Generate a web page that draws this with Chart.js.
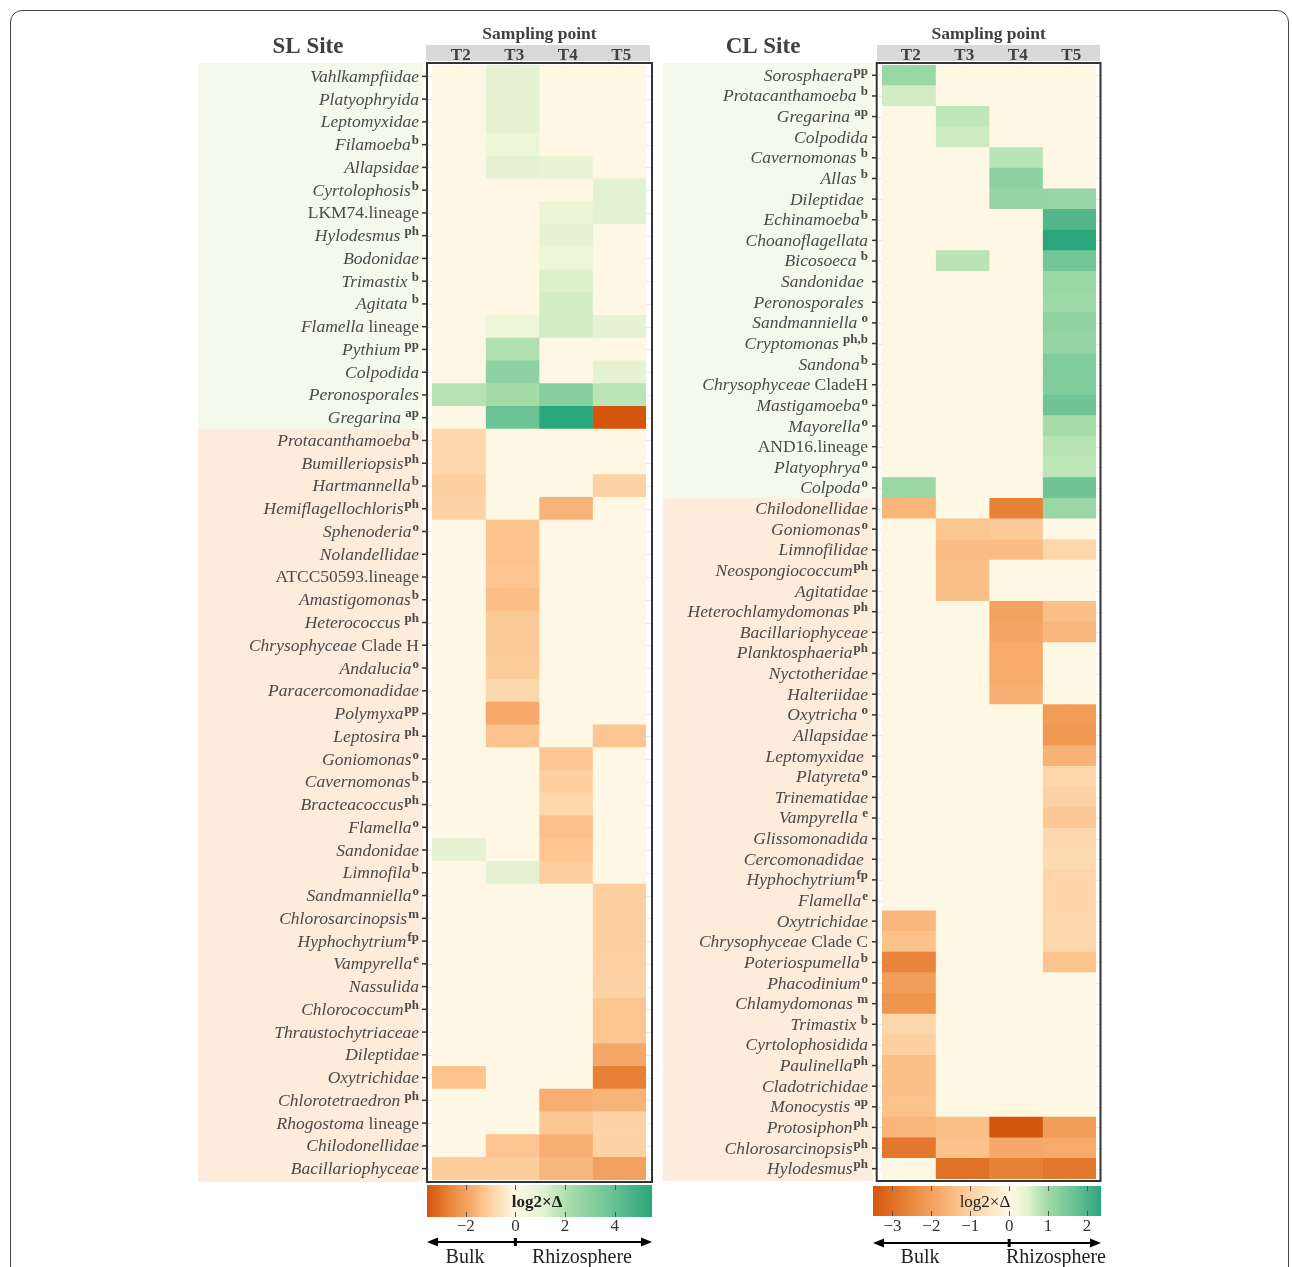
<!DOCTYPE html>
<html>
<head>
<meta charset="utf-8">
<script src="https://cdn.jsdelivr.net/npm/chart.js@4.4.1/dist/chart.umd.min.js"></script>
<style>
  html, body { margin: 0; padding: 0; background: #fff; }
  #page { position: relative; width: 1292px; height: 1267px; overflow: hidden; }
  #frame { position: absolute; left: 10px; top: 10px; width: 1279px; height: 1300px;
           border: 1px solid #444; border-radius: 12px; box-sizing: border-box; }
  canvas { position: absolute; top: 0; }
  #sl { left: 0; }
  #cl { left: 660px; }
</style>
</head>
<body>
<div id="page">
  <div id="frame"></div>
  <canvas id="sl" width="660" height="1267"></canvas>
  <canvas id="cl" width="632" height="1267"></canvas>
</div>
<script>
// Sampling points (columns of both heatmaps)
const samplingPoints = ['T2', 'T3', 'T4', 'T5'];

// ---- SL site ----  (_text_ = italic part of the label)
const slTaxa = [
  '_Vahlkampfiidae_', '_Platyophryida_', '_Leptomyxidae_', '_Filamoeba_', '_Allapsidae_',
  '_Cyrtolophosis_', 'LKM74.lineage', '_Hylodesmus_', '_Bodonidae_', '_Trimastix_',
  '_Agitata_', '_Flamella_ lineage', '_Pythium_', '_Colpodida_', '_Peronosporales_', '_Gregarina_',
  '_Protacanthamoeba_', '_Bumilleriopsis_', '_Hartmannella_', '_Hemiflagellochloris_', '_Sphenoderia_',
  '_Nolandellidae_', 'ATCC50593.lineage', '_Amastigomonas_', '_Heterococcus_', '_Chrysophyceae_ Clade H',
  '_Andalucia_', '_Paracercomonadidae_', '_Polymyxa_', '_Leptosira_', '_Goniomonas_',
  '_Cavernomonas_', '_Bracteacoccus_', '_Flamella_', '_Sandonidae_', '_Limnofila_',
  '_Sandmanniella_', '_Chlorosarcinopsis_', '_Hyphochytrium_', '_Vampyrella_', '_Nassulida_',
  '_Chlorococcum_', '_Thraustochytriaceae_', '_Dileptidae_', '_Oxytrichidae_', '_Chlorotetraedron_',
  '_Rhogostoma_ lineage', '_Chilodonellidae_', '_Bacillariophyceae_'
];
const slSup = [
  '', '', '', 'b', '', 'b', '', ' ph', '', ' b', ' b', '', ' pp', '', '', ' ap',
  'b', 'ph', 'b', 'ph', 'o', '', '', 'b', ' ph', '', 'o', '', 'pp', ' ph', 'o', 'b', 'ph',
  'o', '', 'b', 'o', 'm', 'fp', 'e', '', 'ph', '', '', '', ' ph', '', '', ''
];
const slRhizoCount = 16;   // first rows are rhizosphere-enriched
const slT2 = [0, 0, 0, 0, 0, 0, 0, 0, 0, 0, 0, 0, 0, 0, 1.9, 0,
  -0.85, -0.85, -1.05, -0.95, 0, 0, 0, 0, 0, 0, 0, 0, 0, 0, 0, 0, 0, 0, 1.0, 0,
  0, 0, 0, 0, 0, 0, 0, 0, -1.3, 0, 0, 0, -1.1];
const slT3 = [1.0, 1.0, 1.05, 0.66, 1.0, 0, 0, 0, 0, 0, 0, 0.66, 2.0, 2.9, 2.25, 3.85,
  0, 0, 0, 0, -1.3, -1.3, -1.25, -1.4, -1.15, -1.15, -1.1, -0.85, -1.8, -1.3, 0, 0, 0, 0, 0, 1.05,
  0, 0, 0, 0, 0, 0, 0, 0, 0, 0, 0, -1.25, -1.1];
const slT4 = [0, 0, 0, 0, 0.9, 0, 0.8, 1.0, 0.7, 1.2, 1.4, 1.4, 0, 0, 3.1, 5.5,
  0, 0, 0, -1.6, 0, 0, 0, 0, 0, 0, 0, 0, 0, 0, -1.2, -1.05, -0.9, -1.35, -1.25, -1.05,
  0, 0, 0, 0, 0, 0, 0, 0, 0, -1.7, -1.2, -1.7, -1.55];
const slT5 = [0, 0, 0, 0, 0, 1.1, 1.1, 0, 0, 0, 0, 1.0, 0, 1.0, 1.8, -3.56,
  0, 0, -0.95, 0, 0, 0, 0, 0, 0, 0, 0, 0, 0, -1.25, 0, 0, 0, 0, 0, 0,
  -1.05, -1.05, -1.05, -1.0, -0.95, -1.25, -1.25, -1.85, -2.7, -1.6, -0.95, -0.95, -2.0];
const slTicks = [-2, 0, 2, 4];

// ---- CL site ----
const clTaxa = [
  '_Sorosphaera_', '_Protacanthamoeba_', '_Gregarina_', '_Colpodida_', '_Cavernomonas_',
  '_Allas_', '_Dileptidae_', '_Echinamoeba_', '_Choanoflagellata_', '_Bicosoeca_',
  '_Sandonidae_', '_Peronosporales_', '_Sandmanniella_', '_Cryptomonas_', '_Sandona_',
  '_Chrysophyceae_ CladeH', '_Mastigamoeba_', '_Mayorella_', 'AND16.lineage', '_Platyophrya_', '_Colpoda_',
  '_Chilodonellidae_', '_Goniomonas_', '_Limnofilidae_', '_Neospongiococcum_', '_Agitatidae_',
  '_Heterochlamydomonas_', '_Bacillariophyceae_', '_Planktosphaeria_', '_Nyctotheridae_', '_Halteriidae_',
  '_Oxytricha_', '_Allapsidae_', '_Leptomyxidae_', '_Platyreta_', '_Trinematidae_',
  '_Vampyrella_', '_Glissomonadida_', '_Cercomonadidae_', '_Hyphochytrium_', '_Flamella_',
  '_Oxytrichidae_', '_Chrysophyceae_ Clade C', '_Poteriospumella_', '_Phacodinium_', '_Chlamydomonas_',
  '_Trimastix_', '_Cyrtolophosidida_', '_Paulinella_', '_Cladotrichidae_', '_Monocystis_',
  '_Protosiphon_', '_Chlorosarcinopsis_', '_Hylodesmus_'
];
const clSup = [
  'pp', ' b', ' ap', '', ' b', ' b', ' ', 'b', '', ' b', ' ', ' ', ' o', ' ph,b', 'b', '', 'o', 'o', '', 'o', 'o',
  '', 'o', '', 'ph', '', ' ph', '', 'ph', '', '', ' o', '', ' ', 'o', '', ' e', '', ' ', 'fp', 'e',
  '', '', 'b', 'o', ' m', ' b', '', 'ph', '', ' ap', 'ph', 'ph', 'ph'
];
const clRhizoCount = 21;
const clT2 = [1.1, 0.6, 0, 0, 0, 0, 0, 0, 0, 0, 0, 0, 0, 0, 0, 0, 0, 0, 0, 0, 1.08,
  -1.55, 0, 0, 0, 0, 0, 0, 0, 0, 0, 0, 0, 0, 0, 0, 0, 0, 0, 0, 0,
  -1.5, -1.3, -2.6, -2.05, -2.25, -0.85, -1.0, -1.35, -1.35, -1.3, -1.55, -2.85, 0];
const clT3 = [0, 0, 0.73, 0.65, 0, 0, 0, 0, 0, 0.78, 0, 0, 0, 0, 0, 0, 0, 0, 0, 0, 0,
  0, -1.22, -1.4, -1.35, -1.35, 0, 0, 0, 0, 0, 0, 0, 0, 0, 0, 0, 0, 0, 0, 0,
  0, 0, 0, 0, 0, 0, 0, 0, 0, 0, -1.35, -1.3, -3.0];
const clT4 = [0, 0, 0, 0, 0.78, 1.25, 1.15, 0, 0, 0, 0, 0, 0, 0, 0, 0, 0, 0, 0, 0, 0,
  -2.65, -1.12, -1.4, 0, 0, -1.95, -1.85, -1.75, -1.75, -1.65, 0, 0, 0, 0, 0, 0, 0, 0, 0, 0,
  0, 0, 0, 0, 0, 0, 0, 0, 0, 0, -3.5, -1.8, -2.65];
const clT5 = [0, 0, 0, 0, 0, 0, 1.12, 1.95, 2.36, 1.58, 1.1, 1.05, 1.2, 1.15, 1.4, 1.4, 1.6, 0.95, 0.8, 0.75, 1.6,
  1.1, 0, -0.88, 0, 0, -1.35, -1.5, 0, 0, 0, -2.1, -2.2, -1.6, -0.88, -0.98, -1.15, -0.82, -0.78, -0.9, -0.9,
  -0.85, -0.85, -1.28, 0, 0, 0, 0, 0, 0, 0, -2.1, -1.75, -2.85];
const clTicks = [-3, -2, -1, 0, 1, 2];

// ---- diverging colour scale (bulk = orange, rhizosphere = green) ----
const NEG_STOPS = [[0, '#fef7e3'], [0.12, '#fde8c8'], [0.25, '#fdd6aa'], [0.37, '#fcc28c'],
  [0.5, '#f6aa6c'], [0.65, '#ef954d'], [0.8, '#e47a30'], [1, '#d4560c']];
const POS_STOPS = [[0, '#fef7e3'], [0.12, '#eef6d8'], [0.2, '#e3f2d0'], [0.3, '#c3e8bb'],
  [0.4, '#a6dcaa'], [0.55, '#88d09e'], [0.7, '#6cc395'], [0.85, '#4db488'], [1, '#2aa77a']];

function hexRgb(h) { return [1, 3, 5].map(i => parseInt(h.substr(i, 2), 16)); }
function ramp(stops, t) {
  t = Math.max(0, Math.min(1, t));
  for (let i = 1; i < stops.length; i++) {
    if (t <= stops[i][0]) {
      const [t0, c0] = stops[i - 1], [t1, c1] = stops[i];
      const f = (t - t0) / (t1 - t0);
      const a = hexRgb(c0), b = hexRgb(c1);
      return 'rgb(' + a.map((v, k) => Math.round(v + (b[k] - v) * f)).join(',') + ')';
    }
  }
  return stops[stops.length - 1][1];
}
function colorFor(v, lo, hi) {
  return v < 0 ? ramp(NEG_STOPS, v / lo) : ramp(POS_STOPS, v / hi);
}

const SERIF = '"Liberation Serif", "Times New Roman", serif';
const TEXT = '#4a4a4a';

function drawLabel(ctx, markup, sup, xRight, y) {
  const segs = markup.split('_').map((t, i) => ({ t, font: (i % 2 ? 'italic ' : '') + '17.5px ' + SERIF }))
    .filter(s => s.t.length);
  let w = 0;
  segs.forEach(s => { ctx.font = s.font; s.w = ctx.measureText(s.t).width; w += s.w; });
  const supFont = 'bold 13px ' + SERIF;
  ctx.font = supFont;
  const sw = sup ? ctx.measureText(sup).width + 1 : 0;
  let x = xRight - w - sw;
  ctx.textAlign = 'left';
  ctx.textBaseline = 'alphabetic';
  segs.forEach(s => { ctx.font = s.font; ctx.fillText(s.t, x, y); x += s.w; });
  if (sup) { ctx.font = supFont; ctx.fillText(sup, x + 1, y - 6); }
}

function arrowHead(ctx, x, y, dir) {
  ctx.beginPath();
  ctx.moveTo(x, y);
  ctx.lineTo(x - dir * 11, y - 4.5);
  ctx.lineTo(x - dir * 11, y + 4.5);
  ctx.closePath();
  ctx.fill();
}

function makePanel(id, title, taxa, sup, cols, rhizoCount, ticks, g) {
  const all = cols.flat();
  const lo = Math.min(...all), hi = Math.max(...all);

  const decor = {
    id: 'decor-' + id,
    beforeDatasetsDraw(chart) {
      const { ctx, scales: { x, y } } = chart;
      const n = taxa.length;
      const split = (y.getPixelForValue(rhizoCount - 1) + y.getPixelForValue(rhizoCount)) / 2;
      ctx.save();
      // row group bands behind labels
      ctx.fillStyle = '#f4f9ec';
      ctx.fillRect(g.band[0], g.box[2], g.band[1] - g.band[0], split - g.box[2]);
      ctx.fillStyle = '#fdebdc';
      ctx.fillRect(g.band[0], split, g.band[1] - g.band[0], g.box[3] - split);
      // panel grid
      ctx.strokeStyle = '#ebebeb';
      ctx.lineWidth = 1;
      for (let i = 0; i < n; i++) {
        const py = Math.round(y.getPixelForValue(i)) + 0.5;
        ctx.beginPath(); ctx.moveTo(g.box[0], py); ctx.lineTo(g.box[1], py); ctx.stroke();
      }
      for (let c = 0; c < 4; c++) {
        const px = Math.round(x.getPixelForValue(c + 0.5)) + 0.5;
        ctx.beginPath(); ctx.moveTo(px, g.box[2]); ctx.lineTo(px, g.box[3]); ctx.stroke();
      }
      // header strip
      ctx.fillStyle = '#d9d9d9';
      ctx.fillRect(g.strip[0], 45, g.strip[1] - g.strip[0], 16);
      ctx.fillStyle = '#404040';
      ctx.textAlign = 'center';
      ctx.textBaseline = 'alphabetic';
      ctx.font = 'bold 17px ' + SERIF;
      samplingPoints.forEach((s, c) => ctx.fillText(s, x.getPixelForValue(c + 0.5) + 2, 60));
      ctx.font = 'bold 17.5px ' + SERIF;
      ctx.fillText('Sampling point', (g.box[0] + g.box[1]) / 2, 39);
      ctx.font = 'bold 23px ' + SERIF;
      ctx.fillText(title, g.titleX, 53);
      ctx.restore();
    },
    afterDatasetsDraw(chart) {
      const { ctx, scales: { y } } = chart;
      ctx.save();
      // panel border
      ctx.strokeStyle = '#333';
      ctx.lineWidth = 2;
      ctx.strokeRect(g.box[0], g.box[2], g.box[1] - g.box[0], g.box[3] - g.box[2]);
      // row ticks and labels
      ctx.lineWidth = 1.5;
      ctx.fillStyle = TEXT;
      taxa.forEach((t, i) => {
        const py = y.getPixelForValue(i);
        ctx.beginPath(); ctx.moveTo(g.tick[0], py); ctx.lineTo(g.tick[1], py); ctx.stroke();
        drawLabel(ctx, t, sup[i], g.labelRight, py + 5.5);
      });
      // colour bar
      const [cx0, cx1, cy0, cy1] = g.cbar;
      const vx = v => cx0 + (v - lo) / (hi - lo) * (cx1 - cx0);
      for (let px = cx0; px < cx1; px++) {
        const v = lo + (px + 0.5 - cx0) / (cx1 - cx0) * (hi - lo);
        ctx.fillStyle = colorFor(v, lo, hi);
        ctx.fillRect(px, cy0, 1, cy1 - cy0);
      }
      ctx.strokeStyle = '#555';
      ctx.lineWidth = 1;
      ctx.fillStyle = '#333';
      ctx.textAlign = 'center';
      ctx.font = '17px ' + SERIF;
      ticks.forEach(tv => {
        const px = Math.round(vx(tv)) + 0.5;
        ctx.beginPath(); ctx.moveTo(px, cy0); ctx.lineTo(px, cy0 + 5); ctx.stroke();
        ctx.beginPath(); ctx.moveTo(px, cy1 - 5); ctx.lineTo(px, cy1); ctx.stroke();
        ctx.fillText(tv < 0 ? '\u2212' + Math.abs(tv) : String(tv), vx(tv), 1231);
      });
      ctx.fillStyle = '#222';
      ctx.font = (g.cbBold ? 'bold ' : '') + '17px ' + SERIF;
      ctx.fillText('log2\u00d7\u0394', g.cbTitleX, 1207);
      // bulk / rhizosphere arrow
      ctx.strokeStyle = '#000';
      ctx.fillStyle = '#000';
      ctx.lineWidth = 2;
      ctx.beginPath(); ctx.moveTo(cx0 + 4, g.arrowY); ctx.lineTo(cx1 - 4, g.arrowY); ctx.stroke();
      arrowHead(ctx, cx0, g.arrowY, -1);
      arrowHead(ctx, cx1, g.arrowY, 1);
      ctx.fillRect(vx(0) - 1.5, g.arrowY - 4, 3, 8);
      ctx.fillStyle = '#222';
      ctx.font = '20px ' + SERIF;
      ctx.fillText('Bulk', g.bulkX, 1263);
      ctx.fillText('Rhizosphere', g.rhizoX, 1263);
      ctx.restore();
    }
  };

  return new Chart(document.getElementById(id), {
    type: 'bar',
    data: {
      labels: taxa.map(t => t.replace(/_/g, '')),
      datasets: cols.map((vals, c) => ({
        label: samplingPoints[c],
        data: vals.map(() => [c, c + 1]),
        backgroundColor: vals.map(v => colorFor(v, lo, hi)),
        borderWidth: 0,
        grouped: false,
        barPercentage: 1,
        categoryPercentage: 1
      }))
    },
    options: {
      indexAxis: 'y',
      responsive: false,
      animation: false,
      events: [],
      layout: { padding: g.pad },
      plugins: { legend: { display: false }, tooltip: { enabled: false } },
      scales: {
        x: { type: 'linear', min: 0, max: 4, display: false },
        y: { type: 'category', display: false, offset: true }
      }
    },
    plugins: [decor]
  });
}

makePanel('sl', 'SL Site', slTaxa, slSup, [slT2, slT3, slT4, slT5], slRhizoCount, slTicks, {
  pad: { left: 432, right: 14, top: 65, bottom: 87 },
  band: [198, 423], labelRight: 419, tick: [422, 427],
  box: [427, 652, 63, 1182], strip: [426, 650], titleX: 308,
  cbar: [427, 652, 1185, 1217], cbTitleX: 537, cbBold: true,
  arrowY: 1242, bulkX: 465, rhizoX: 582
});

makePanel('cl', 'CL Site', clTaxa, clSup, [clT2, clT3, clT4, clT5], clRhizoCount, clTicks, {
  pad: { left: 222, right: 196, top: 65, bottom: 88 },
  band: [3, 213], labelRight: 208, tick: [212, 216],
  box: [216.7, 440.5, 63, 1181], strip: [217, 440], titleX: 103,
  cbar: [213, 441, 1186, 1216], cbTitleX: 325, cbBold: false,
  arrowY: 1243, bulkX: 260, rhizoX: 396
});
</script>
</body>
</html>
